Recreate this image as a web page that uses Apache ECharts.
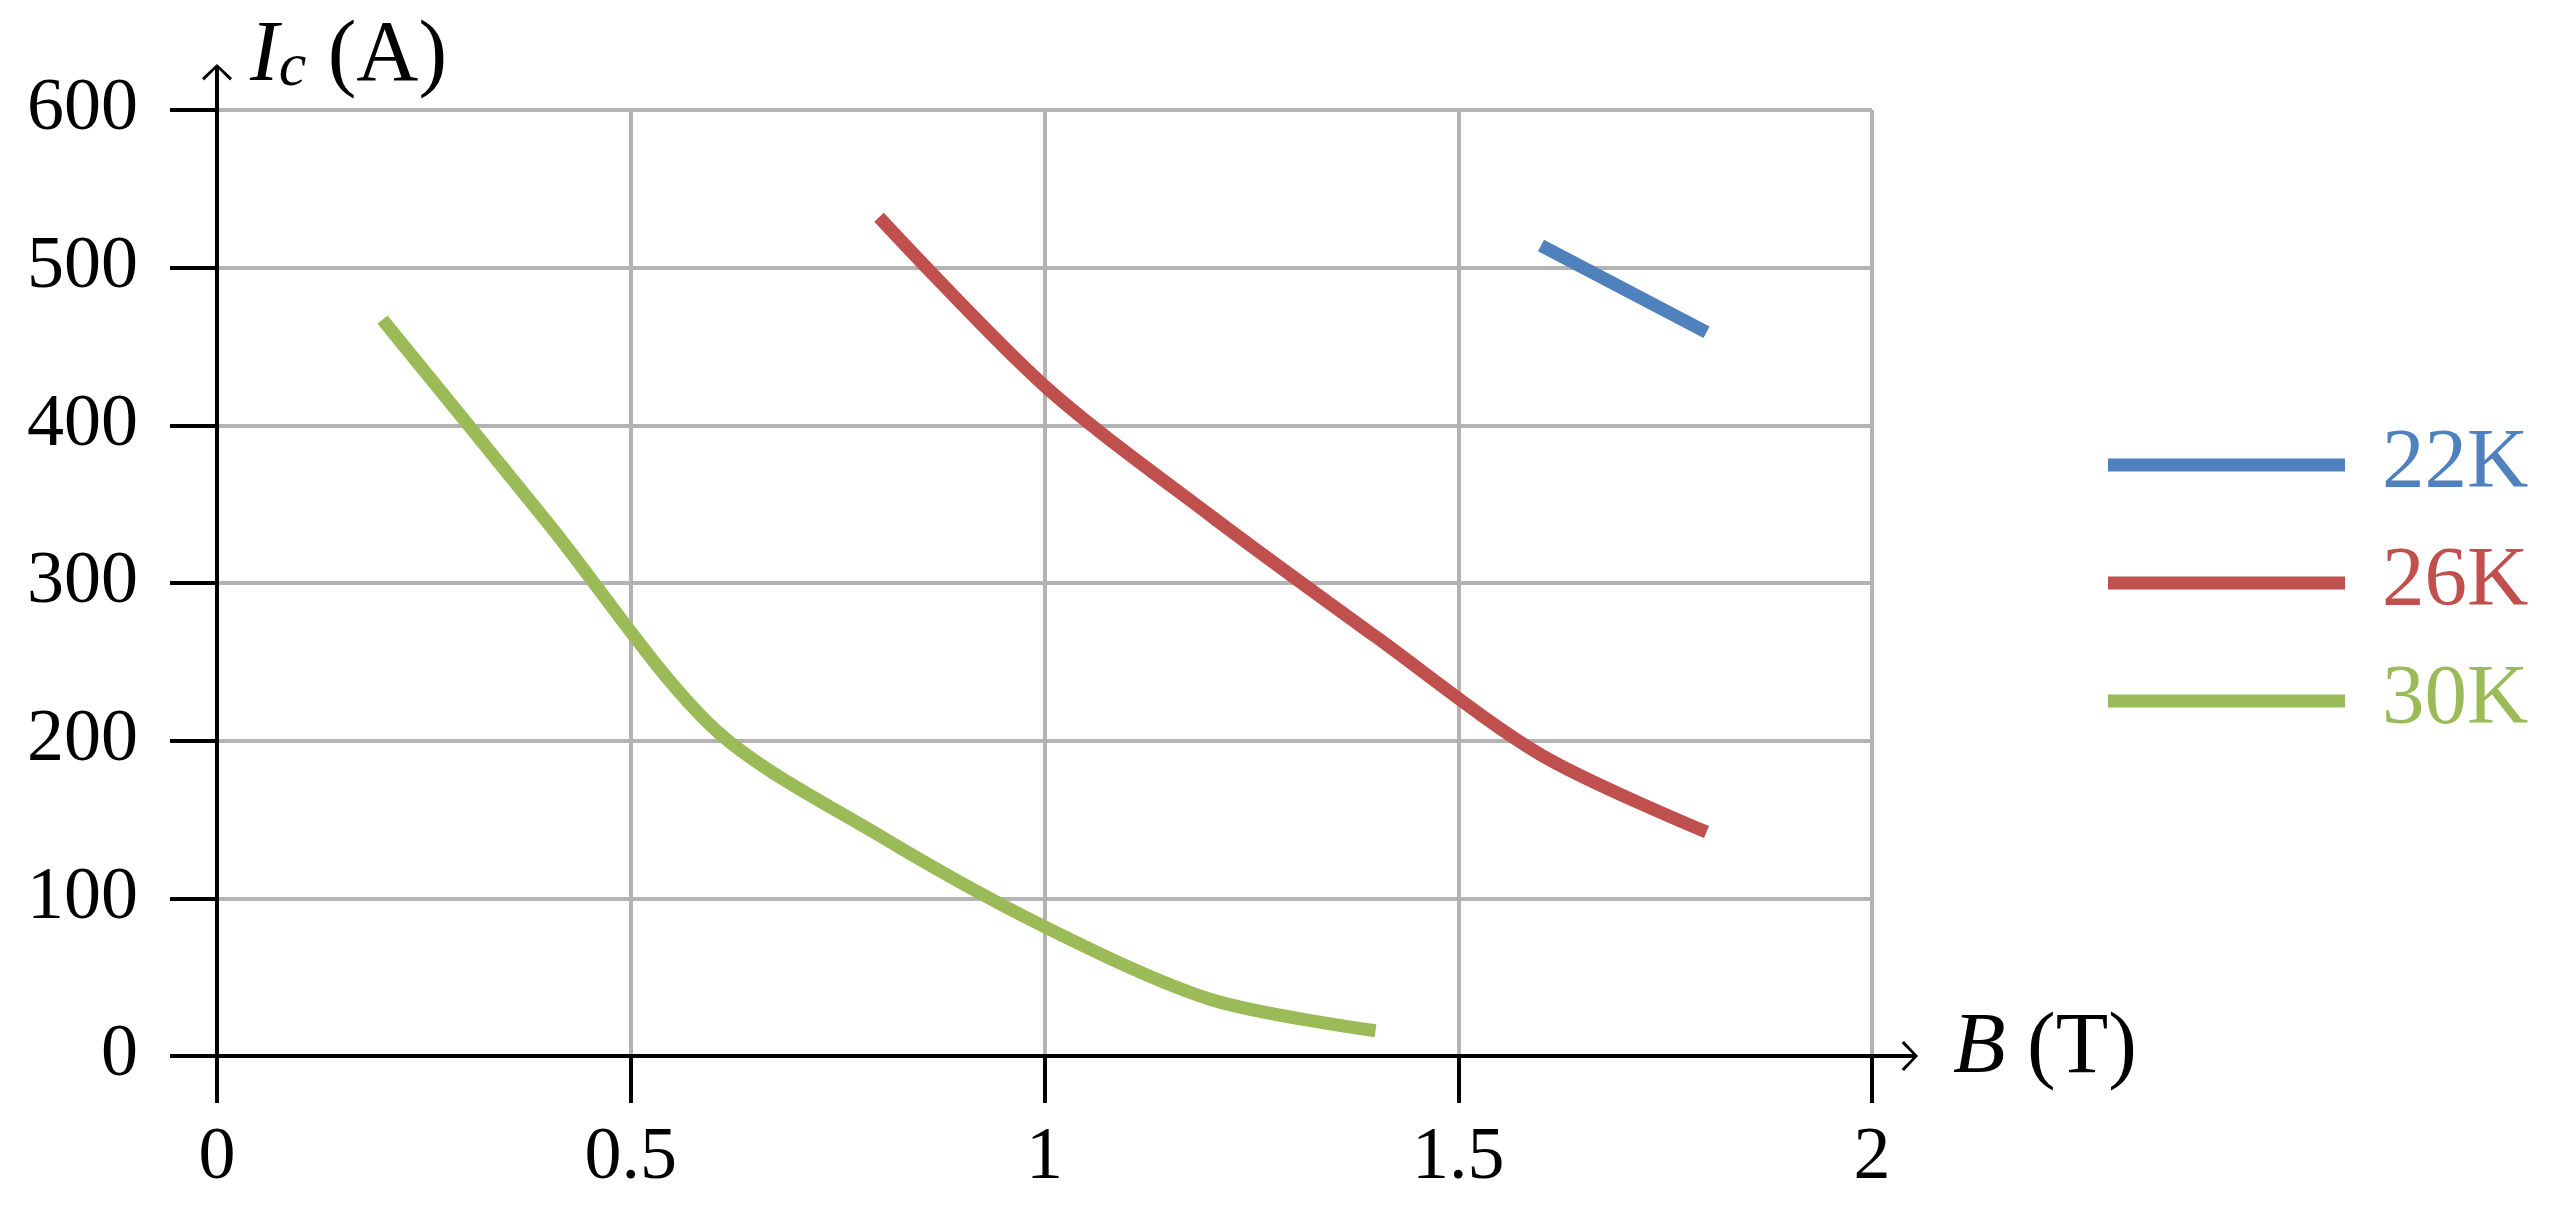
<!DOCTYPE html>
<html>
<head>
<meta charset="utf-8">
<script src="https://cdn.jsdelivr.net/npm/echarts@6/dist/echarts.min.js"></script>
<style>
html, body { margin: 0; padding: 0; background: #ffffff; }
#main { width: 2549px; height: 1208px; }
</style>
</head>
<body>
<div id="main"></div>
<script>
// B (T) 与 Ic (A)
var b_22k = [1.6, 1.8];
var ic_22k = [514, 459];

var b_26k = [0.8, 1.0, 1.2, 1.4, 1.6, 1.8];
var ic_26k = [532, 425, 343, 266, 191, 142];

var b_30k = [0.2, 0.4, 0.6, 0.8, 1.0, 1.2, 1.4];
var ic_30k = [467, 338, 208, 140, 82, 36, 16];

var series_names = ['22K', '26K', '30K'];
var series_colors = ['#4F81BD', '#C0504D', '#9BBB59'];

var FONT = 'Liberation Serif';

// 坐标轴末端箭头（开口箭头 + 延长线），尖端朝上
var ARROW = 'path://M15,0 L30,14 L28,16.5 L17,5.5 L17,46 L13,46 L13,5.5 L2,16.5 L0,14 Z';

function toPairs(xs, ys) {
	var out = [];
	for (var i = 0; i < xs.length; i++) {
		out.push([xs[i], ys[i]]);
	}
	return out;
}

var myChart = echarts.init(document.getElementById('main'));

var legend_data = [];
for (var k = 0; k < series_names.length; k++) {
	legend_data.push({
		name: series_names[k],
		textStyle: { color: series_colors[k] }
	});
}

var option = {
	animation: false,
	backgroundColor: '#ffffff',
	grid: {
		left: 217,
		top: 110,
		width: 1655,
		height: 946
	},
	legend: {
		orient: 'vertical',
		left: 2108,
		top: 422,
		padding: 0,
		itemGap: 32,
		itemWidth: 237,
		itemHeight: 13,
		icon: 'rect',
		textStyle: {
			fontFamily: FONT,
			fontSize: 85,
			lineHeight: 86,
			padding: [0, 0, 0, 32]
		},
		data: legend_data
	},
	xAxis: {
		type: 'value',
		min: 0,
		max: 2,
		interval: 0.5,
		name: '{i|B}{n| (T)}',
		nameLocation: 'end',
		nameGap: 81,
		nameTextStyle: {
			padding: [0, 0, 14, 0],
			rich: {
				i: { fontFamily: FONT, fontSize: 86, fontStyle: 'italic', color: '#000', lineHeight: 86 },
				n: { fontFamily: FONT, fontSize: 86, color: '#000', lineHeight: 86 }
			}
		},
		axisLine: {
			symbol: ['none', ARROW],
			symbolSize: [30, 46],
			symbolOffset: [0, 23],
			lineStyle: { color: '#000000', width: 4 }
		},
		axisTick: {
			length: 47,
			lineStyle: { color: '#000000', width: 4 }
		},
		axisLabel: {
			margin: 66,
			fontFamily: FONT,
			fontSize: 74,
			color: '#000000'
		},
		splitLine: {
			show: true,
			lineStyle: { color: '#b3b3b3', width: 4 }
		}
	},
	yAxis: {
		type: 'value',
		min: 0,
		max: 600,
		interval: 100,
		name: '{i|I}{s|c}{n| (A)}',
		nameLocation: 'end',
		nameGap: 53,
		nameTextStyle: {
			align: 'left',
			verticalAlign: 'middle',
			padding: [0, 0, 0, 33],
			rich: {
				i: { fontFamily: FONT, fontSize: 86, fontStyle: 'italic', color: '#000', lineHeight: 86 },
				s: { fontFamily: FONT, fontSize: 62, fontStyle: 'italic', color: '#000', lineHeight: 62, verticalAlign: 'bottom' },
				n: { fontFamily: FONT, fontSize: 86, color: '#000', lineHeight: 86 }
			}
		},
		axisLine: {
			symbol: ['none', ARROW],
			symbolSize: [30, 46],
			symbolOffset: [0, 23],
			lineStyle: { color: '#000000', width: 4 }
		},
		axisTick: {
			length: 47,
			lineStyle: { color: '#000000', width: 4 }
		},
		axisLabel: {
			margin: 79,
			fontFamily: FONT,
			fontSize: 74,
			color: '#000000'
		},
		splitLine: {
			show: true,
			lineStyle: { color: '#b3b3b3', width: 4 }
		}
	},
	series: [{
		name: '22K',
		type: 'line',
		smooth: 0.3,
		showSymbol: false,
		color: series_colors[0],
		lineStyle: { width: 13, color: series_colors[0] },
		data: toPairs(b_22k, ic_22k)
	}, {
		name: '26K',
		type: 'line',
		smooth: 0.3,
		showSymbol: false,
		color: series_colors[1],
		lineStyle: { width: 13, color: series_colors[1] },
		data: toPairs(b_26k, ic_26k)
	}, {
		name: '30K',
		type: 'line',
		smooth: 0.3,
		showSymbol: false,
		color: series_colors[2],
		lineStyle: { width: 13, color: series_colors[2] },
		data: toPairs(b_30k, ic_30k)
	}]
};

myChart.setOption(option);
</script>
</body>
</html>
